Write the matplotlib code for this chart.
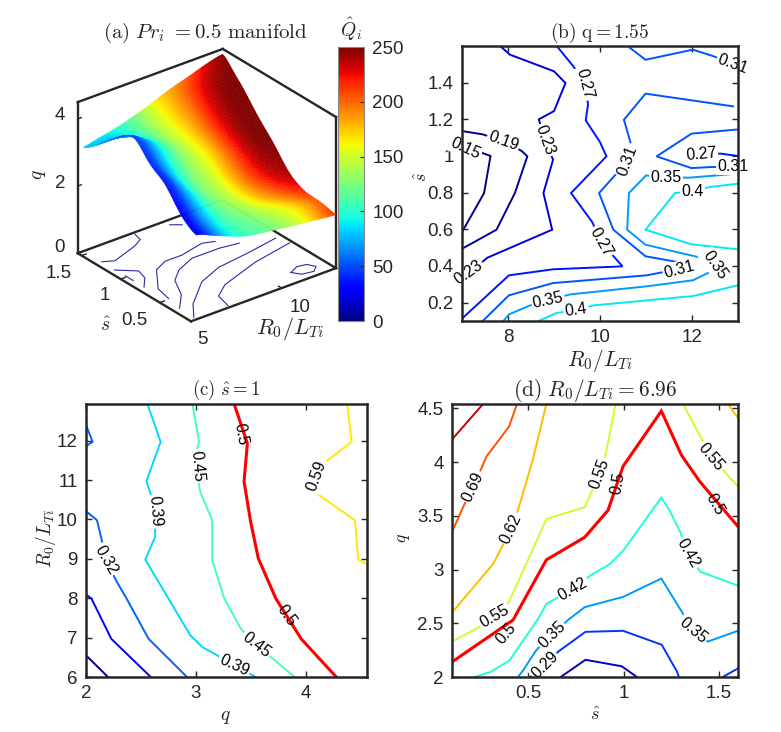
import numpy as np
import matplotlib
matplotlib.use('Agg')
import matplotlib.pyplot as plt
from matplotlib import cm
from matplotlib.colors import Normalize

plt.rcParams['font.family'] = ['Liberation Sans', 'DejaVu Sans']
plt.rcParams['mathtext.fontset'] = 'cm'

W, H = 781, 732
INK = '#262626'

# panel (a): manifold, rows are shear, columns are R0/LTi
r_grid = [5.3, 6, 7, 8, 9, 10, 11, 12, 13]
s_grid = [0.1, 0.3, 0.5, 0.7, 0.9, 1.1, 1.3, 1.45, 1.55]
q_surf = [[2.5, 2.31, 2.1, 1.89, 1.82, 1.75, 1.68, 1.62, 1.56],
          [2.85, 2.62, 2.37, 2.10, 2.02, 1.93, 1.85, 1.77, 1.70],
          [3.6, 3.22, 2.79, 2.35, 2.22, 2.06, 1.93, 1.80, 1.68],
          [3.85, 3.47, 3.05, 2.61, 2.48, 2.33, 2.20, 2.06, 1.95],
          [4.5, 4.12, 3.70, 3.27, 3.13, 2.98, 2.85, 2.71, 2.60],
          [4.1, 3.9, 3.68, 3.45, 3.38, 3.3, 3.23, 3.16, 3.1],
          [3.55, 3.59, 3.63, 3.68, 3.69, 3.71, 3.72, 3.74, 3.75],
          [3.2, 3.38, 3.58, 3.79, 3.85, 3.92, 3.98, 4.05, 4.1],
          [3.0, 3.1, 3.15, 3.3, 3.55, 3.85, 4.05, 4.3, 4.5]]
q_heat = [[20, 50, 90, 105, 115, 130, 150, 180, 225],
          [25, 55, 95, 115, 125, 140, 155, 175, 205],
          [30, 60, 100, 125, 145, 170, 190, 205, 220],
          [35, 65, 105, 130, 150, 185, 215, 235, 245],
          [40, 70, 105, 135, 160, 190, 225, 250, 250],
          [50, 75, 110, 140, 165, 195, 230, 250, 250],
          [65, 80, 110, 145, 170, 195, 230, 250, 250],
          [75, 85, 105, 130, 165, 190, 220, 245, 250],
          [85, 85, 90, 120, 160, 180, 200, 225, 250]]

# floor contours of panel (a), (R0/LTi, shear)
floor_lines = [
    [(5.34, 1.32), (5.85, 1.27), (7.38, 1.37), (7.93, 1.43), (8.04, 1.52)],
    [(5.3, 1.15), (6.08, 1.02), (5.9, 0.90), (5.34, 0.78)],
    [(5.34, 1.02), (5.35, 0.92)],
    [(5.53, 0.51), (5.73, 0.69), (6.76, 0.95), (7.54, 1.02), (8.46, 1.02), (9.82, 1.08), (10.38, 1.04)],
    [(5.36, 0.33), (6.19, 0.50), (6.78, 0.72), (7.53, 0.84), (8.64, 0.93), (10.14, 0.93), (11.11, 0.90)],
    [(5.33, 0.14), (6.06, 0.32), (7.62, 0.57), (9.03, 0.68), (10.9, 0.73), (12.64, 0.79)],
    [(7.17, 0.13), (7.38, 0.30), (8.25, 0.42), (10.56, 0.57), (12.86, 0.66)],
    [(11.21, 0.26), (11.74, 0.31), (12.21, 0.29), (12.41, 0.22), (12.07, 0.165), (11.48, 0.186), (11.21, 0.26)],
    [(9.78, 1.48), (10.2, 1.42)],
]

# panel (b): level, points (R0/LTi, shear)
b_lines = [
    (0.15, [(7.0, 0.585), (7.48, 0.798), (7.62, 1.0), (7.0, 1.058)]),
    (0.19, [(7, 0.494), (7.75, 0.598), (8.15, 0.798), (8.42, 0.998), (8.30, 1.027), (7.9, 1.082), (7.45, 1.118), (7.0, 1.136)]),
    (0.23, [(7, 0.33), (7.55, 0.445), (8.96, 0.598), (8.77, 0.798), (8.98, 0.98), (8.8, 1.085), (8.67, 1.20), (9.0, 1.245),
            (9.25, 1.398), (9.0, 1.462), (8.04, 1.553), (7.83, 1.6)]),
    (0.27, [(7, 0.113), (8.02, 0.349), (8.98, 0.382), (10.49, 0.398), (10.34, 0.44), (10.03, 0.531), (9.83, 0.64), (9.37, 0.798),
            (10.14, 0.998), (10.0, 1.076), (9.69, 1.194), (9.74, 1.282), (9.67, 1.394), (9.42, 1.489), (9.06, 1.6)]),
    (0.27, [(13, 1.0), (12.62, 1.013), (12.2, 1.01), (11.94, 0.985), (13, 0.989)]),
    (0.31, [(7.45, 0.1), (8.02, 0.24), (8.98, 0.307), (11.01, 0.349), (11.88, 0.391), (11.77, 0.418), (10.99, 0.453), (10.29, 0.598),
            (9.98, 0.798), (10.29, 0.885), (10.6, 0.976), (10.66, 1.076), (10.52, 1.198), (10.99, 1.34), (12.89, 1.271)]),
    (0.31, [(10.65, 1.59), (10.99, 1.525), (12.02, 1.58), (12.46, 1.545), (12.9, 1.50)]),
    (0.31, [(13, 1.145), (11.99, 1.122), (11.23, 0.998), (11.99, 0.934), (12.44, 0.94), (13, 0.94)]),
    (0.35, [(7.9, 0.1), (8.02, 0.136), (8.48, 0.185), (8.87, 0.213), (9.35, 0.245), (11.01, 0.289), (12.02, 0.322), (12.39, 0.367),
            (12.49, 0.404), (12.28, 0.44), (10.99, 0.516), (10.59, 0.598), (10.63, 0.798), (11.0, 0.894), (11.44, 0.882), (11.95, 0.882), (13, 0.904)]),
    (0.40, [(8.66, 0.1), (9.06, 0.144), (9.48, 0.158), (9.85, 0.185), (12.02, 0.236), (13, 0.295)]),
    (0.40, [(13, 0.491), (11.99, 0.518), (10.99, 0.598), (11.63, 0.798), (12.01, 0.809), (12.39, 0.831), (13, 0.849)]),
]
# text, x, y, rotation, gap in the line
b_labels = [('0.31', 12.89, 1.503, -20, True), ('0.27', 9.67, 1.394, -75, True), ('0.19', 7.9, 1.082, -20, True),
            ('0.15', 7.07, 1.04, -25, True), ('0.23', 8.80, 1.085, -70, True), ('0.31', 10.6, 0.976, 70, True),
            ('0.27', 12.2, 1.01, 5, True), ('0.31', 12.9, 0.944, 0, True), ('0.35', 11.44, 0.882, 0, True),
            ('0.4', 12.01, 0.809, 0, True), ('0.23', 7.14, 0.367, 35, True), ('0.27', 10.03, 0.531, -60, True),
            ('0.31', 11.73, 0.38, 15, True), ('0.35', 12.49, 0.404, -55, True), ('0.35', 8.87, 0.213, 12, True),
            ('0.4', 9.48, 0.158, 8, True)]

# panel (c): level, points (q, R0/LTi)
c_lines = [
    (0.19, [(2, 6.55), (2.2, 6.0)]),
    (0.25, [(2, 8.09), (2.05, 7.99), (2.23, 6.97), (2.59, 6.0)]),
    (0.32, [(2, 12.4), (2.06, 11.97), (2, 11.86)]),
    (0.32, [(2, 10.21), (2.10, 9.98), (2.14, 9.52), (2.18, 8.97), (2.28, 8.42), (2.37, 7.99), (2.57, 6.97), (2.92, 6.0)]),
    (0.39, [(2.56, 12.93), (2.68, 11.97), (2.55, 10.97), (2.59, 10.64), (2.63, 10.11), (2.63, 9.56), (2.54, 8.98), (2.95, 7.06),
            (3.06, 6.76), (3.17, 6.59), (3.35, 6.30), (3.52, 6.04), (3.55, 6.0)]),
    (0.45, [(2.97, 12.93), (3.03, 11.97), (3.01, 11.76), (3.01, 11.17), (3.04, 10.70), (3.15, 9.98), (3.15, 8.97), (3.26, 7.99),
            (3.41, 7.23), (3.55, 6.81), (3.70, 6.47), (3.90, 6.0)]),
    (0.50, [(3.35, 12.93), (3.47, 11.93), (3.44, 10.96), (3.50, 9.94), (3.57, 9.01), (3.73, 7.99), (3.96, 6.97), (4.28, 6)]),
    (0.59, [(4.38, 12.93), (4.42, 11.97), (4.19, 11.48), (4.10, 11.0), (4.10, 10.66), (4.45, 9.98), (4.48, 8.98), (4.56, 8.86)]),
]
c_labels = [('0.5', 3.41, 12.16, -80, False), ('0.59', 4.10, 11.10, 70, True), ('0.45', 3.01, 11.35, -85, True),
            ('0.39', 2.63, 10.2, -85, True), ('0.32', 2.18, 8.97, -60, True), ('0.39', 3.35, 6.30, -25, True),
            ('0.45', 3.55, 6.81, -38, True), ('0.5', 3.83, 7.57, -55, False)]

# panel (d): level, points (shear, q)
d_lines = [
    (0.22, [(0.67, 2), (0.80, 2.16), (0.99, 2.10), (1.07, 2)]),
    (0.29, [(0.51, 2), (0.66, 2.24), (0.80, 2.42), (0.997, 2.43), (1.20, 2.30), (1.28, 2.05), (1.29, 2)]),
    (0.29, [(1.52, 2), (1.6, 2.08)]),
    (0.35, [(0.446, 2), (0.472, 2.06), (0.542, 2.25), (0.624, 2.39), (0.708, 2.53), (0.796, 2.65), (0.997, 2.745), (1.198, 2.916),
            (1.311, 2.59), (1.364, 2.435), (1.442, 2.33), (1.6, 2.43)]),
    (0.42, [(0.219, 2), (0.306, 2.05), (0.402, 2.155), (0.551, 2.54), (0.595, 2.68), (0.735, 2.82), (0.83, 2.95), (0.927, 3.05),
            (1.0, 3.18), (1.198, 3.67), (1.241, 3.55), (1.297, 3.35), (1.338, 3.15), (1.402, 2.98), (1.6, 2.85)]),
    (0.50, [(0.1, 2.14), (0.42, 2.53), (0.595, 3.09), (0.796, 3.30), (0.918, 3.55), (0.997, 3.96), (1.198, 4.475), (1.303, 4.065),
            (1.399, 3.82), (1.6, 3.40)]),
    (0.55, [(0.1, 2.33), (0.228, 2.45), (0.324, 2.56), (0.399, 2.70), (0.499, 3.09), (0.595, 3.47), (0.796, 3.58), (0.831, 3.72),
            (0.874, 3.88), (0.909, 4.10), (0.958, 4.54)]),
    (0.55, [(1.311, 4.54), (1.399, 4.25), (1.46, 4.05), (1.53, 3.91), (1.6, 3.77)]),
    (0.62, [(0.1, 2.60), (0.315, 3.05), (0.359, 3.20), (0.411, 3.38), (0.451, 3.58), (0.525, 4.03), (0.595, 4.54)]),
    (0.62, [(1.547, 4.54), (1.6, 4.41)]),
    (0.69, [(0.1, 3.35), (0.158, 3.58), (0.21, 3.77), (0.259, 3.96), (0.28, 4.05), (0.399, 4.33), (0.441, 4.54)]),
    (0.76, [(0.1, 4.21), (0.263, 4.54)]),
]
d_labels = [('0.69', 0.21, 3.77, 65, True), ('0.62', 0.411, 3.38, 65, True), ('0.55', 0.874, 3.89, 70, True),
            ('0.5', 0.97, 3.80, 80, False), ('0.55', 1.46, 4.05, -50, True), ('0.5', 1.477, 3.61, -60, False),
            ('0.42', 1.338, 3.15, -60, True), ('0.42', 0.735, 2.82, 30, True), ('0.35', 0.624, 2.39, 45, True),
            ('0.35', 1.364, 2.435, -40, True), ('0.55', 0.324, 2.56, 30, True), ('0.5', 0.385, 2.40, 50, False),
            ('0.29', 0.586, 2.11, 45, True)]

line_norm = Normalize(0.18, 0.80)
TICK_SIZE = 13.5


def fx(px):
    return px / W


def fy(py):
    return 1 - py / H


def px_text(x, y, s, **kw):
    kw.setdefault('ha', 'center')
    kw.setdefault('va', 'center')
    kw.setdefault('color', INK)
    return fig.text(fx(x), fy(y), s, **kw)


def box_axes(left, top, right, bottom):
    ax = fig.add_axes([fx(left), fy(bottom), fx(right - left), (bottom - top) / H])
    ax.tick_params(direction='in', top=True, right=True, length=4, width=1.0, color=INK,
                   labelcolor=INK, labelsize=TICK_SIZE, pad=6)
    for sp in ax.spines.values():
        sp.set_linewidth(1.8)
        sp.set_color(INK)
    return ax


def draw_contours(ax, lines, labels):
    for level, pts in lines:
        xs = [p[0] for p in pts]
        ys = [p[1] for p in pts]
        if level == 0.50:
            ax.plot(xs, ys, color='red', lw=2.2, solid_joinstyle='miter')
        else:
            ax.plot(xs, ys, color=cm.jet(line_norm(level)), lw=1.4, solid_joinstyle='miter')
    for txt, x, y, rot, gap in labels:
        kw = {}
        if gap:
            kw['bbox'] = dict(facecolor='white', edgecolor='none', pad=1.0)
        ax.text(x, y, txt, rotation=rot, rotation_mode='anchor', ha='center', va='center',
                fontsize=11.5, color='black', clip_on=False, zorder=2.2, **kw)


fig = plt.figure(figsize=(W / 100, H / 100), dpi=100)

# --- panel (a)
ax3 = fig.add_axes([fx(22), fy(370), fx(360), 360 / H], projection='3d', computed_zorder=False)
ax3.patch.set_alpha(0)
ax3.set_proj_type('ortho')
ax3.view_init(elev=28, azim=-128)
ax3.set_box_aspect((1, 1, 0.93), zoom=0.84)
ax3.set_xlim(5, 13)
ax3.set_ylim(0.1, 1.55)
ax3.set_zlim(0, 4.5)
ax3.set_axis_off()

xl, xh, yl, yh, zl, zh = 5, 13, 0.1, 1.55, 0, 4.5
edges = [[(xl, yl, zl), (xh, yl, zl)], [(xl, yl, zl), (xl, yh, zl)], [(xl, yh, zl), (xh, yh, zl)], [(xh, yl, zl), (xh, yh, zl)],
         [(xl, yh, zl), (xl, yh, zh)], [(xh, yl, zl), (xh, yl, zh)], [(xl, yh, zh), (xh, yh, zh)], [(xh, yh, zh), (xh, yl, zh)]]
for e in edges:
    ax3.plot(*zip(*e), color=INK, lw=1.7, zorder=2)
for pts in floor_lines:
    ax3.plot([p[0] for p in pts], [p[1] for p in pts], [0] * len(pts), color='#2a2aa8', lw=0.8, zorder=1)
for v in [10]:
    ax3.plot([v, v], [yl, yl + 0.04], [0, 0], color=INK, lw=1, zorder=2)
for v in [0.5, 1, 1.5]:
    ax3.plot([xl, xl + 0.25], [v, v], [0, 0], color=INK, lw=1, zorder=2)
for v in [0, 2, 4]:
    ax3.plot([xl, xl + 0.2], [yh, yh], [v, v], color=INK, lw=1, zorder=2)

# finer mesh between the read values only so the surface shades smoothly
r_fine = np.linspace(r_grid[0], r_grid[-1], 60)
s_fine = np.linspace(s_grid[0], s_grid[-1], 60)


def blur(tab):
    # rounds off the creases of the coarse table, same as the interpolated shading in the original
    kernel = np.ones(5) / 5
    for axis in (0, 1):
        for _ in range(3):
            pad = np.pad(tab, [(2, 2) if a == axis else (0, 0) for a in (0, 1)], mode='edge')
            tab = np.apply_along_axis(lambda v: np.convolve(v, kernel, mode='valid'), axis, pad)
    return tab


def refine(table):
    tab = np.array(table, dtype=float)
    by_r = np.array([np.interp(r_fine, r_grid, row) for row in tab])
    return blur(np.array([np.interp(s_fine, s_grid, col) for col in by_r.T]).T)


rr, ss = np.meshgrid(r_fine, s_fine)
qq = refine(q_surf)
hh = refine(q_heat)
heat_norm = Normalize(0, 250)
cols = cm.jet(heat_norm(hh))
surf = ax3.plot_surface(rr, ss, qq, facecolors=cols, rstride=1, cstride=1, shade=False,
                        linewidth=0.3, antialiased=True, zorder=3)
face = cols[:-1, :-1].reshape(-1, 4)
surf.set_edgecolors(face)

px_text(205, 33, r'$\mathrm{(a)}\ Pr_i\ \mathrm{=0.5\ manifold}$', fontsize=15)
px_text(65, 116, '4', fontsize=TICK_SIZE, ha='right')
px_text(65, 183, '2', fontsize=TICK_SIZE, ha='right')
px_text(65, 248, '0', fontsize=TICK_SIZE, ha='right')
px_text(72, 273, '1.5', fontsize=TICK_SIZE, ha='right')
px_text(105, 296, '1', fontsize=TICK_SIZE)
px_text(134, 320, '0.5', fontsize=TICK_SIZE)
px_text(202, 339, '5', fontsize=TICK_SIZE)
px_text(300, 307, '10', fontsize=TICK_SIZE)
px_text(40, 175, r'$q$', fontsize=14, rotation=90)
px_text(105, 326, r'$\hat{s}$', fontsize=14)
px_text(290, 328, r'$R_0/L_{Ti}$', fontsize=16)

cax = fig.add_axes([fx(337.5), fy(321), fx(26.5), 274 / H])
sm = cm.ScalarMappable(norm=heat_norm, cmap='jet')
cb = fig.colorbar(sm, cax=cax, ticks=[0, 50, 100, 150, 200, 250])
cb.ax.tick_params(direction='in', length=3, width=0.8, color=INK, labelcolor=INK, labelsize=TICK_SIZE, pad=6)
cb.outline.set_edgecolor('#888888')
cb.outline.set_linewidth(0.8)
px_text(351, 29, r'$\hat{Q}_i$', fontsize=14)

# --- panel (b)
ax_b = box_axes(462, 46, 738, 321)
draw_contours(ax_b, b_lines, b_labels)
ax_b.set_xlim(7, 13)
ax_b.set_ylim(0.1, 1.6)
ax_b.set_xticks([8, 10, 12])
ax_b.set_yticks([0.2, 0.4, 0.6, 0.8, 1.0, 1.2, 1.4])
ax_b.set_yticklabels(['0.2', '0.4', '0.6', '0.8', '1', '1.2', '1.4'])
px_text(600, 33, r'$\mathrm{(b)\ q{=}1.55}$', fontsize=14)
px_text(600, 361, r'$R_0/L_{Ti}$', fontsize=15.5)
px_text(422, 177, r'$\hat{s}$', fontsize=13, rotation=90)

# --- panel (c)
ax_c = box_axes(86, 404, 367, 677)
draw_contours(ax_c, c_lines, c_labels)
ax_c.set_xlim(2, 4.56)
ax_c.set_ylim(6, 12.93)
ax_c.set_xticks([2, 3, 4])
ax_c.set_yticks([6, 7, 8, 9, 10, 11, 12])
px_text(226, 390, r'$\mathrm{(c)}\ \hat{s}\mathrm{{=}1}$', fontsize=13.5)
px_text(225, 717, r'$q$', fontsize=14)
px_text(45, 538, r'$R_0/L_{Ti}$', fontsize=14, rotation=90)

# --- panel (d)
ax_d = box_axes(452, 404, 738, 677)
draw_contours(ax_d, d_lines, d_labels)
ax_d.set_xlim(0.1, 1.6)
ax_d.set_ylim(2, 4.54)
ax_d.set_xticks([0.5, 1, 1.5])
ax_d.set_xticklabels(['0.5', '1', '1.5'])
ax_d.set_yticks([2, 2.5, 3, 3.5, 4, 4.5])
ax_d.set_yticklabels(['2', '2.5', '3', '3.5', '4', '4.5'])
px_text(595, 390, r'$\mathrm{(d)}\ R_0/L_{Ti}\mathrm{{=}6.96}$', fontsize=15.5)
px_text(595, 715, r'$\hat{s}$', fontsize=13)
px_text(403, 538, r'$q$', fontsize=13, rotation=90)

fig.savefig('out.png', dpi=100)
